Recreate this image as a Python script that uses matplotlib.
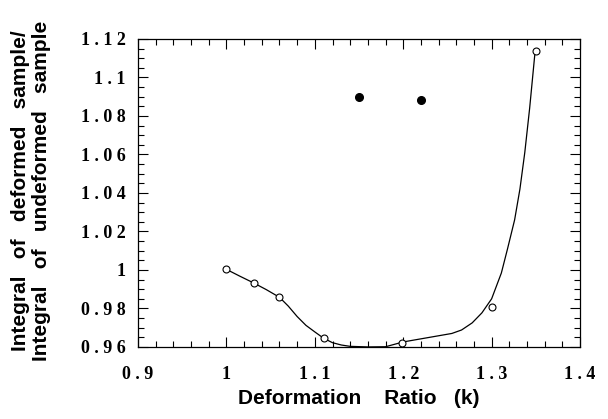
import numpy as np
import matplotlib.pyplot as plt
import matplotlib.ticker as ticker

# Measured points (open circles)
k_open = [1.00, 1.031, 1.06, 1.11, 1.199, 1.30, 1.35]
r_open = [1.0003, 0.9932, 0.986, 0.9647, 0.962, 0.981, 1.1138]

# Filled circles
k_filled = [1.15, 1.22]
r_filled = [1.0899, 1.0883]

# Fitted curve
k_fit = [1.00, 1.015, 1.031, 1.045, 1.06, 1.07, 1.08, 1.09, 1.10, 1.11, 1.12, 1.13, 1.14,
         1.16, 1.18, 1.20, 1.22, 1.24, 1.255, 1.266, 1.278, 1.289, 1.30, 1.311, 1.318,
         1.326, 1.332, 1.3375, 1.343, 1.349]
r_fit = [1.0003, 0.9968, 0.9932, 0.9898, 0.9858, 0.9812, 0.9758, 0.9712, 0.9678, 0.9645,
         0.9622, 0.9610, 0.9603, 0.9600, 0.9601, 0.9626, 0.9642, 0.9658, 0.9670, 0.9688,
         0.9725, 0.9777, 0.9850, 0.9984, 1.0110, 1.0260, 1.0420, 1.0610, 1.0840, 1.1127]

bold_serif = {'family': 'Liberation Serif', 'weight': 'bold', 'size': 13}
xlab_font = {'family': 'Liberation Sans', 'weight': 'bold', 'size': 15}
ylab_font = {'family': 'Liberation Sans', 'weight': 'bold', 'size': 15}

fig = plt.figure(figsize=(6.08, 4.19), dpi=100)
ax = fig.add_axes([0.227, 0.172, 0.727, 0.735])

ax.plot(k_fit, r_fit, color='black', linewidth=0.9)
ax.plot(k_open, r_open, linestyle='None', marker='o', markersize=5,
        markerfacecolor='white', markeredgecolor='black', markeredgewidth=0.8)
ax.plot(k_filled, r_filled, linestyle='None', marker='o', markersize=5.5,
        color='black')

ax.set_xlim(0.9, 1.4)
ax.set_ylim(0.96, 1.12)

ax.xaxis.set_major_locator(ticker.MultipleLocator(0.1))
ax.xaxis.set_minor_locator(ticker.MultipleLocator(0.02))
ax.yaxis.set_major_locator(ticker.MultipleLocator(0.02))
ax.yaxis.set_minor_locator(ticker.MultipleLocator(0.005))

xt = [0.9, 1.0, 1.1, 1.2, 1.3, 1.4]
yt = [0.96, 0.98, 1.0, 1.02, 1.04, 1.06, 1.08, 1.1, 1.12]
ax.set_xticks(xt)
ax.set_xticklabels(['0 . 9', '1', '1 . 1', '1 . 2', '1 . 3', '1 . 4'], fontdict=bold_serif)
ax.set_yticks(yt)
ax.set_yticklabels(['0 . 9 6', '0 . 9 8', '1', '1 . 0 2', '1 . 0 4', '1 . 0 6',
                    '1 . 0 8', '1 . 1', '1 . 1 2'], fontdict=bold_serif)

ax.tick_params(which='both', direction='in', top=True, right=True, width=0.8)
ax.tick_params(which='major', length=7, pad=9)
ax.tick_params(axis='x', which='major', pad=14)
ax.tick_params(which='minor', length=4)
for s in ax.spines.values():
    s.set_linewidth(0.9)

ax.set_xlabel('Deformation    Ratio   (k)', fontdict=xlab_font, labelpad=4)
fig.text(0.034, 0.545, 'Integral   of   deformed   sample/', rotation=90,
         ha='center', va='center', fontdict=ylab_font)
fig.text(0.069, 0.545, 'Integral   of   undeformed   sample', rotation=90,
         ha='center', va='center', fontdict=ylab_font)

fig.savefig('out.png', dpi=100)
